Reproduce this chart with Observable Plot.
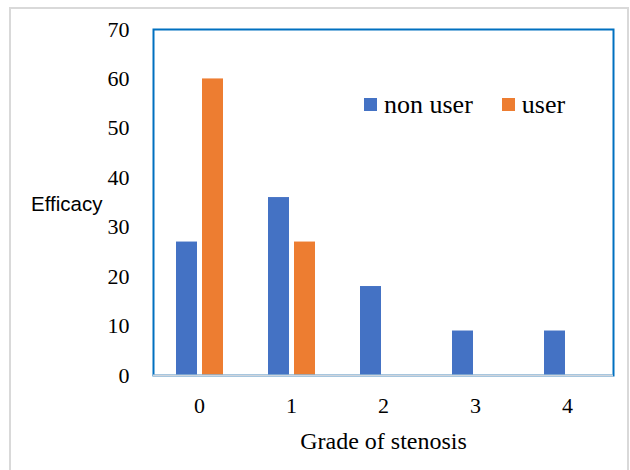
<!DOCTYPE html>
<html><head><meta charset="utf-8">
<script src="https://cdn.jsdelivr.net/npm/d3@7"></script>
<script src="https://cdn.jsdelivr.net/npm/@observablehq/plot@0.6"></script>
<style>
body{margin:0;background:#fff}
#wrap{position:relative;width:630px;height:470px;overflow:hidden}
#border{position:absolute;left:9px;top:7px;width:620px;height:470px;border:2px solid #d9d9d9;border-bottom:none;box-sizing:border-box;pointer-events:none}
#ylab{position:absolute;left:31px;top:192px;font-family:"Liberation Sans",Arial,sans-serif;font-size:20.5px;color:#000}
#legend{position:absolute;left:364px;top:88px}
#chart svg, #chart svg text{font-family:"Liberation Serif","Times New Roman",serif !important}
#legend, #legend *{font-family:"Liberation Serif","Times New Roman",serif !important;font-size:26px !important;color:#000}
#legend svg{margin-right:7px !important}
#legend div > span{margin-right:29px !important}
</style></head>
<body><div id="wrap"><div id="border"></div><div id="chart"></div><div id="ylab">Efficacy</div><div id="legend"></div></div>
<script>
const grades = ["0","1","2","3","4"];
const series = ["non user","user"];
const nonUser = [27,36,18,9,9];
const user = [60,27,0,0,0];
const yTicks = [0,10,20,30,40,50,60,70];
const colors = ["#4472C4","#ED7D31"];

const data = grades.flatMap((g,i)=>[
  {grade:g, series:series[0], value:nonUser[i]},
  {grade:g, series:series[1], value:user[i]}
]);

const serif = "Liberation Serif";

const chart = Plot.plot({
  width:630, height:470,
  marginLeft:152, marginRight:17, marginTop:29, marginBottom:95,
  style:{background:"transparent", overflow:"visible", color:"#000"},
  fx:{domain:grades, padding:0, label:null},
  x:{domain:series, paddingInner:0.21, paddingOuter:0.83, axis:null},
  y:{domain:[0,70], ticks:yTicks},
  color:{domain:series, range:colors},
  marks:[
    Plot.barY(data,{fx:"grade", x:"series", y:"value", fill:"series"}),
    Plot.frame({facet:"super", stroke:"#0070C0", strokeWidth:2}),
    Plot.ruleY([0],{stroke:"#cfd5dd", strokeWidth:2}),
    Plot.axisY({ticks:yTicks, tickSize:0, tickPadding:24, label:null, fontSize:22, fontFamily:serif}),
    Plot.axisFx({anchor:"bottom", tickSize:0, tickPadding:22, fontSize:22, fontFamily:serif, label:null}),
    Plot.axisFx({anchor:"bottom", tickSize:0, ticks:[], label:"Grade of stenosis", labelAnchor:"center", labelOffset:73, fontSize:24, fontFamily:serif})
  ]
});
document.getElementById("chart").appendChild(chart);

const leg = Plot.legend({color:{domain:series, range:colors}, legend:"swatches", swatchSize:13});
document.getElementById("legend").appendChild(leg);
</script>
</body></html>
